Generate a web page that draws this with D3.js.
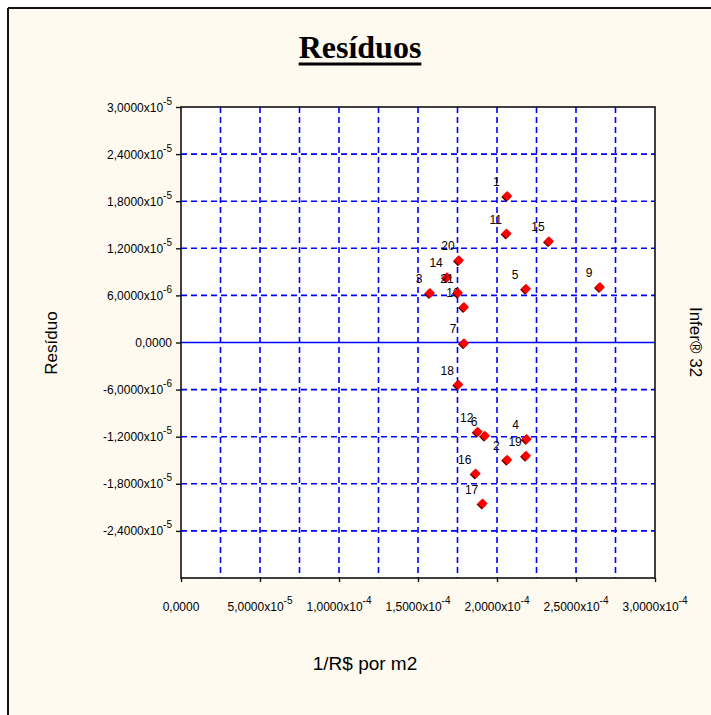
<!DOCTYPE html>
<html><head><meta charset="utf-8">
<script src="https://cdn.jsdelivr.net/npm/d3@7"></script>
<style>
html,body{margin:0;padding:0;background:#fff;}
svg{display:block;}
</style></head>
<body>
<script>
// ---- data ----
const pointLabels = ["1","2","3","4","5","6","7","9","10","11","12","14","15","16","17","18","19","20","21"];
const xValues = [2.065e-4,2.065e-4,1.576e-4,2.188e-4,2.184e-4,1.924e-4,1.791e-4,2.652e-4,1.791e-4,2.061e-4,1.878e-4,1.684e-4,2.329e-4,1.865e-4,1.909e-4,1.755e-4,2.184e-4,1.759e-4,1.753e-4];
const yValues = [18.65e-6,-14.94e-6,6.3e-6,-12.3e-6,6.86e-6,-11.88e-6,-0.1e-6,7.06e-6,4.51e-6,13.88e-6,-11.37e-6,8.3e-6,12.9e-6,-16.69e-6,-20.52e-6,-5.36e-6,-14.43e-6,10.47e-6,6.35e-6];
const xTicks = [0,5e-5,1e-4,1.5e-4,2e-4,2.5e-4,3e-4];
const xGrid = [2.5e-5,5e-5,7.5e-5,1e-4,1.25e-4,1.5e-4,1.75e-4,2e-4,2.25e-4,2.5e-4,2.75e-4];
const yTicks = [-2.4e-5,-1.8e-5,-1.2e-5,-6e-6,0,6e-6,1.2e-5,1.8e-5,2.4e-5,3e-5];
const yGrid = [-2.4e-5,-1.8e-5,-1.2e-5,-6e-6,6e-6,1.2e-5,1.8e-5,2.4e-5];
const titleText = "Resíduos";
const xTitle = "1/R$ por m2";
const yTitle = "Resíduo";
const sideText = "Infer® 32";

const W = 711, H = 715;
const svg = d3.select("body").append("svg").attr("width", W).attr("height", H);

// background + outer frame
svg.append("rect").attr("x",0).attr("y",0).attr("width",W).attr("height",H).attr("fill","#fff");
svg.append("rect").attr("x",8).attr("y",8).attr("width",W).attr("height",H).attr("fill","#fefaef");
svg.append("line").attr("x1",8).attr("y1",8).attr("x2",8).attr("y2",H).attr("stroke","#111").attr("stroke-width",2);
svg.append("line").attr("x1",8).attr("y1",8).attr("x2",W).attr("y2",8).attr("stroke","#111").attr("stroke-width",2);

const L = 181, R = 655, T = 107, B = 578;
const x = d3.scaleLinear().domain([0,3e-4]).range([L,R]);
const y = d3.scaleLinear().domain([-3e-5,3e-5]).range([B,T]);

svg.append("rect").attr("x",L).attr("y",T).attr("width",R-L).attr("height",B-T).attr("fill","#fff");

const blue = "#0000ff";
const g = svg.append("g");
g.selectAll(".vg").data(xGrid).join("line")
  .attr("x1",d=>x(d)).attr("x2",d=>x(d)).attr("y1",T).attr("y2",B)
  .attr("stroke",blue).attr("stroke-width",1.6).attr("stroke-dasharray","6,4");
g.selectAll(".hg").data(yGrid).join("line")
  .attr("x1",L).attr("x2",R).attr("y1",d=>y(d)).attr("y2",d=>y(d))
  .attr("stroke",blue).attr("stroke-width",1.6).attr("stroke-dasharray","6,4");
g.append("line").attr("x1",L).attr("x2",R).attr("y1",y(0)).attr("y2",y(0))
  .attr("stroke",blue).attr("stroke-width",1.6);

// frame
svg.append("rect").attr("x",L).attr("y",T).attr("width",R-L).attr("height",B-T)
  .attr("fill","none").attr("stroke","#111").attr("stroke-width",1.6);

// label formatter
function parts(v){
  if (v === 0) return ["0,0000", null];
  const e = Math.floor(Math.log10(Math.abs(v)) + 1e-9);
  const m = v / Math.pow(10, e);
  return [m.toFixed(4).replace(".", ","), String(e)];
}
const fontSmall = "'Liberation Sans', Arial, sans-serif";

// y axis
const yAxis = d3.axisLeft(y).tickValues(yTicks).tickSize(5).tickFormat("");
const ya = svg.append("g").attr("transform",`translate(${L},0)`).call(yAxis);
ya.select(".domain").remove();
ya.selectAll("line").attr("stroke","#111").attr("stroke-width",1.4);
yTicks.forEach(v=>{
  const [m,e] = parts(v);
  const t = svg.append("text").attr("x",172).attr("y",y(v)+4.5)
    .attr("text-anchor","end").attr("font-family",fontSmall).attr("font-size",12).attr("fill","#000");
  t.append("tspan").text(m + (e ? "x10" : ""));
  if (e) t.append("tspan").attr("dy",-7).attr("font-size",10).text(e.replace("-","\u2212").replace("\u2212","-"));
});

// x axis
const xAxis = d3.axisBottom(x).tickValues(xTicks).tickSize(4).tickFormat("");
const xa = svg.append("g").attr("transform",`translate(0,${B})`).call(xAxis);
xa.select(".domain").remove();
xa.selectAll("line").attr("stroke","#111").attr("stroke-width",1.4);
xTicks.forEach(v=>{
  const [m,e] = parts(v);
  const t = svg.append("text").attr("x",x(v)).attr("y",611)
    .attr("text-anchor","middle").attr("font-family",fontSmall).attr("font-size",12).attr("fill","#000");
  t.append("tspan").text(m + (e ? "x10" : ""));
  if (e) t.append("tspan").attr("dy",-7).attr("font-size",10).text(e);
});

// points
const pts = svg.append("g");
const diamond = d3.symbol().type(d3.symbolSquare).size(50);
xValues.forEach((xv,i)=>{
  const cx = x(xv), cy = y(yValues[i]);
  pts.append("path").attr("d",diamond()).attr("transform",`translate(${cx-1},${cy+1}) rotate(45)`).attr("fill","#600");
  pts.append("path").attr("d",diamond()).attr("transform",`translate(${cx},${cy}) rotate(45)`).attr("fill","#ff0000");
  pts.append("text").attr("x",cx-11).attr("y",cy-10).attr("text-anchor","middle")
    .attr("font-family",fontSmall).attr("font-size",12).attr("fill","#000").text(pointLabels[i]);
});

// titles
const title = svg.append("text").attr("x",360).attr("y",58).attr("text-anchor","middle")
  .attr("font-family","'Liberation Serif', 'Times New Roman', serif").attr("font-weight","bold")
  .attr("font-size",32).attr("fill","#000").text(titleText);
const tb = title.node().getBBox();
svg.append("line").attr("x1",tb.x).attr("x2",tb.x+tb.width).attr("y1",64).attr("y2",64)
  .attr("stroke","#000").attr("stroke-width",3);

svg.append("text").attr("x",365).attr("y",670).attr("text-anchor","middle")
  .attr("font-family",fontSmall).attr("font-size",19).attr("fill","#000").text(xTitle);
svg.append("text").attr("transform","translate(57,343) rotate(-90)").attr("text-anchor","middle")
  .attr("font-family",fontSmall).attr("font-size",17).attr("fill","#000").text(yTitle);
svg.append("text").attr("transform","translate(690,342) rotate(90)").attr("text-anchor","middle")
  .attr("font-family",fontSmall).attr("font-size",17).attr("fill","#000").text(sideText);
</script>
</body></html>
